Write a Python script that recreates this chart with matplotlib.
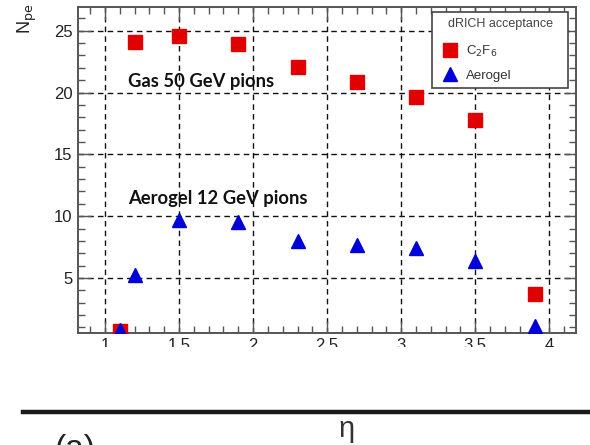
import matplotlib

matplotlib.use("Agg")
import matplotlib.pyplot as plt
from matplotlib.lines import Line2D
from matplotlib.patches import Rectangle
from matplotlib.ticker import MultipleLocator

# photo-electron yield vs pseudorapidity
eta = [1.1, 1.2, 1.5, 1.9, 2.3, 2.7, 3.1, 3.5, 3.9]
npe_gas = [0.7, 24.1, 24.55, 23.9, 22.1, 20.85, 19.65, 17.8, 3.7]
npe_aerogel = [0.8, 5.2, 9.7, 9.55, 8.0, 7.7, 7.4, 6.4, 1.1]

W, H = 590, 445
fig = plt.figure(figsize=(W / 100, H / 100), dpi=100)
ax = fig.add_axes([78.3 / W, 1 - 332.7 / H, (576 - 78.3) / W, (332.7 - 7.3) / H])

ax.plot(eta, npe_gas, ls="none", marker="s", ms=10, color="#e00000",
        mec="#e00000", label=r"C$_2$F$_6$", zorder=3)
ax.plot(eta, npe_aerogel, ls="none", marker="^", ms=10.5, color="#0000d8",
        mec="#0000d8", label="Aerogel", zorder=4)

ax.set_xlim(0.82, 4.18)
ax.set_ylim(0.57, 26.9)
ax.xaxis.set_minor_locator(MultipleLocator(0.1))
ax.yaxis.set_minor_locator(MultipleLocator(1))
ax.set_xticks([1, 1.5, 2, 2.5, 3, 3.5, 4])
ax.set_xticklabels(["1", "1.5", "2", "2.5", "3", "3.5", "4"])
ax.set_yticks([5, 10, 15, 20, 25])

ax.tick_params(which="both", direction="in", top=True, right=True,
               color="#555555", width=1.0)
ax.tick_params(which="major", length=9, labelsize=12, labelcolor="#222222", pad=4)
ax.tick_params(which="minor", length=5)
for lab in ax.get_xticklabels() + ax.get_yticklabels():
    lab.set_family("Liberation Sans")
for s in ax.spines.values():
    s.set_color("#555555")
    s.set_linewidth(1.4)

ax.grid(True, which="major", color="#111111", ls=(0, (4, 3)), lw=1.0)
ax.set_axisbelow(True)

ax.text(1.155, 20.45, "Gas 50 GeV pions", family="Lato", weight="bold",
        fontsize=13.2, color="#111111", va="baseline", ha="left")
ax.text(1.155, 10.98, "Aerogel 12 GeV pions", family="Lato", weight="bold",
        fontsize=13.2, color="#111111", va="baseline", ha="left")

# legend: ROOT-style box with a centred header and left-aligned entries
fig.add_artist(Rectangle((432 / W, 1 - 88 / H), 136 / W, 76 / H,
                         transform=fig.transFigure, facecolor="white",
                         edgecolor="#444444", lw=1.2, zorder=5))
fig.text(501 / W, 1 - 24 / H, "dRICH acceptance", family="Liberation Sans",
         fontsize=9, color="#444444", ha="center", va="center", zorder=6)
handles = [
    Line2D([], [], ls="none", marker="s", ms=10, color="#e00000", label=r"C$_2$F$_6$"),
    Line2D([], [], ls="none", marker="^", ms=10.5, color="#0000d8", label="Aerogel"),
]
leg = fig.legend(handles=handles, loc="upper left",
                 bbox_to_anchor=(443 / W, 1 - 44 / H), frameon=False,
                 prop={"family": "Liberation Sans", "size": 9.5},
                 handletextpad=0.75, labelspacing=0.8, borderpad=0,
                 handlelength=1.0, borderaxespad=0)
leg.set_zorder(7)
for t in leg.get_texts():
    t.set_color("#333333")

# axis title, rotated like the ROOT canvas
fig.text(16 / W, 1 - 4 / H, r"N$_{\rm pe}$", rotation=90, family="Liberation Sans",
         fontsize=13, color="#222222", ha="left", va="top")

# the lower half of the tick labels is hidden by a white band
fig.add_artist(Rectangle((0, 1 - 408 / H), 1, (408 - 347) / H,
                         transform=fig.transFigure, facecolor="white",
                         edgecolor="none", zorder=10))

fig.add_artist(Line2D([23 / W, 1], [1 - 412 / H, 1 - 412 / H],
                      transform=fig.transFigure, color="#1a1a1a", lw=3.2, zorder=11))
fig.text(347 / W, 1 - 429 / H, "η", family="Liberation Sans", fontsize=21,
         color="#333333", ha="center", va="center", zorder=11)
fig.text(55 / W, 1 - 434 / H, "(a)", family="Liberation Sans", fontsize=24,
         color="#222222", ha="left", va="top", zorder=11)

fig.savefig("out.png", dpi=100)
